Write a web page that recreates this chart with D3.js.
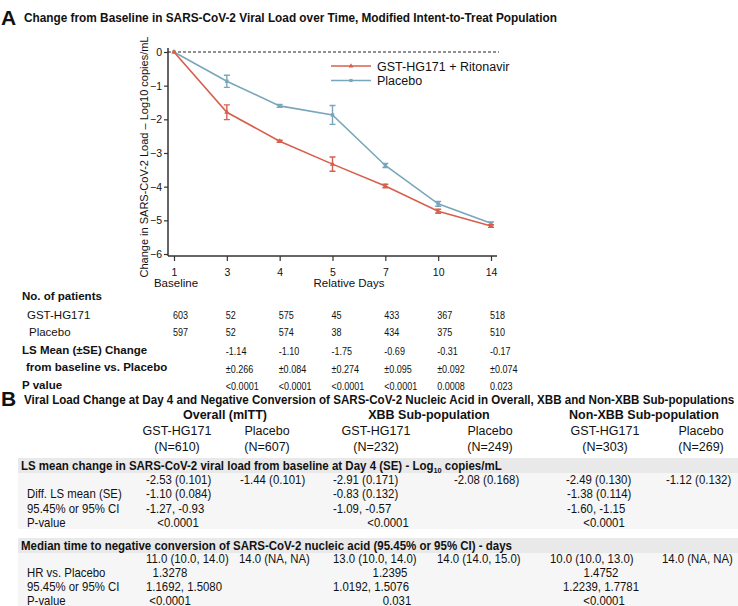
<!DOCTYPE html>
<html>
<head>
<meta charset="utf-8">
<script src="https://cdn.jsdelivr.net/npm/d3@7"></script>
<style>
  html, body { margin: 0; padding: 0; background: #fff; }
  svg { display: block; }
  text { font-family: Arial, 'Liberation Sans', sans-serif; fill: #111; }
</style>
</head>
<body>
<svg id="chart" width="738" height="606"></svg>
<script>
// ---------- Data ----------
const dayLabels = ["1", "3", "4", "5", "7", "10", "14"];
const gstMean = [0, -1.79, -2.65, -3.33, -3.98, -4.73, -5.17];
const gstSE   = [0, 0.22, 0.03, 0.21, 0.05, 0.06, 0.04];
const pboMean = [0, -0.87, -1.60, -1.87, -3.37, -4.51, -5.09];
const pboSE   = [0, 0.18, 0.04, 0.28, 0.06, 0.07, 0.04];
const yTicks = [0, -1, -2, -3, -4, -5, -6];
const seriesNames = ["GST-HG171 + Ritonavir", "Placebo"];
const seriesColors = ["#d6604d", "#7aa6bc"];

const nGst = ["603", "52", "575", "45", "433", "367", "518"];
const nPbo = ["597", "52", "574", "38", "434", "375", "510"];
const lsDiff = ["", "-1.14", "-1.10", "-1.75", "-0.69", "-0.31", "-0.17"];
const lsSE = ["", "±0.266", "±0.084", "±0.274", "±0.095", "±0.092", "±0.074"];
const pVals = ["", "<0.0001", "<0.0001", "<0.0001", "<0.0001", "0.0008", "0.023"];

// Part B
const groupNames = ["Overall (mITT)", "XBB Sub-population", "Non-XBB Sub-population"];
const armNames = ["GST-HG171", "Placebo", "GST-HG171", "Placebo", "GST-HG171", "Placebo"];
const armN = ["(N=610)", "(N=607)", "(N=232)", "(N=249)", "(N=303)", "(N=269)"];
const lsChange = ["-2.53 (0.101)", "-1.44 (0.101)", "-2.91 (0.171)", "-2.08 (0.168)", "-2.49 (0.130)", "-1.12 (0.132)"];
const diffLS = ["-1.10 (0.084)", "-0.83 (0.132)", "-1.38 (0.114)"];
const diffCI = ["-1.27, -0.93", "-1.09, -0.57", "-1.60, -1.15"];
const diffP = ["<0.0001", "<0.0001", "<0.0001"];
const medTime = ["11.0 (10.0, 14.0)", "14.0 (NA, NA)", "13.0 (10.0, 14.0)", "14.0 (14.0, 15.0)", "10.0 (10.0, 13.0)", "14.0 (NA, NA)"];
const hrVals = ["1.3278", "1.2395", "1.4752"];
const hrCI = ["1.1692, 1.5080", "1.0192, 1.5076", "1.2239, 1.7781"];
const hrP = ["<0.0001", "0.031", "<0.0001"];

const svg = d3.select("#chart");

// helper: text with horizontal condensing
function ctext(parent, str, xx, yy, opts = {}) {
  const s = opts.scale || 1;
  return parent.append("text")
    .attr("transform", `translate(${xx},${yy}) scale(${s},1)`)
    .attr("font-size", opts.size || 11.5)
    .attr("font-weight", opts.bold ? "bold" : "normal")
    .attr("text-anchor", opts.anchor || "start")
    .text(str);
}

// ---------- Part A titles ----------
ctext(svg, "A", 1, 25, { size: 21, bold: true });
ctext(svg, "Change from Baseline in SARS-CoV-2 Viral Load over Time, Modified Intent-to-Treat Population", 24, 22,
  { size: 13, bold: true, scale: 0.91 });

// ---------- Scales ----------
const x = d3.scalePoint().domain(dayLabels).range([174, 491]);
const y = d3.scaleLinear().domain([-6, 0]).range([254, 52]);
const axisColor = "#333";

// Y axis
const yAxis = svg.append("g").attr("transform", "translate(168,0)")
  .call(d3.axisLeft(y).tickValues(yTicks).tickFormat(d3.format("d")).tickSize(4).tickPadding(2));
yAxis.select(".domain").attr("d", "M0,48V256").attr("stroke", axisColor).attr("stroke-width", 1.5);
yAxis.selectAll(".tick line").attr("stroke", axisColor).attr("stroke-width", 1.2);
yAxis.selectAll(".tick text").attr("font-size", 10.5).attr("fill", "#111").attr("font-family", "Arial, 'Liberation Sans', sans-serif");

// X axis
const xAxis = svg.append("g").attr("transform", "translate(0,256)")
  .call(d3.axisBottom(x).tickSize(5).tickPadding(8));
xAxis.select(".domain").attr("d", "M168,0H497").attr("stroke", axisColor).attr("stroke-width", 1.5);
xAxis.selectAll(".tick line").attr("stroke", axisColor).attr("stroke-width", 1.2);
xAxis.selectAll(".tick text").attr("font-size", 10.5).attr("fill", "#111").attr("font-family", "Arial, 'Liberation Sans', sans-serif");

ctext(svg, "Baseline", x("1") + 2, 287, { size: 11.5, anchor: "middle" });
ctext(svg, "Relative Days", 349, 287, { size: 11.5, anchor: "middle" });

svg.append("text").attr("transform", "translate(148,157) rotate(-90)").attr("text-anchor", "middle")
  .attr("font-size", 11).text("Change in SARS-CoV-2 Load \u2013 Log10 copies/mL");

// Zero dashed line
svg.append("line").attr("x1", 168).attr("x2", 499).attr("y1", y(0)).attr("y2", y(0))
  .attr("stroke", "#222").attr("stroke-width", 1).attr("stroke-dasharray", "3,2");

// Series
const series = [
  { name: seriesNames[0], mean: gstMean, se: gstSE, color: seriesColors[0], marker: d3.symbolTriangle },
  { name: seriesNames[1], mean: pboMean, se: pboSE, color: seriesColors[1], marker: d3.symbolSquare }
];
const line = d3.line().x((d, i) => x(dayLabels[i])).y(d => y(d));

series.slice().reverse().forEach(s => {
  const g = svg.append("g");
  g.append("path").attr("d", line(s.mean)).attr("fill", "none").attr("stroke", s.color).attr("stroke-width", 1.6);
  s.mean.forEach((m, i) => {
    if (s.se[i] <= 0) return;
    const cx = x(dayLabels[i]);
    const y1 = y(m + s.se[i]), y2 = y(m - s.se[i]);
    g.append("path").attr("d", `M${cx},${y1}V${y2}M${cx - 3},${y1}H${cx + 3}M${cx - 3},${y2}H${cx + 3}`)
      .attr("stroke", s.color).attr("stroke-width", 1.4).attr("fill", "none");
  });
  g.selectAll(".mk").data(s.mean).enter().append("path")
    .attr("transform", (d, i) => `translate(${x(dayLabels[i])},${y(d)})`)
    .attr("d", d3.symbol().type(s.marker).size(12)).attr("fill", s.color);
});

// Legend
series.forEach((s, i) => {
  const ly = 66 + i * 14.5;
  svg.append("line").attr("x1", 331).attr("x2", 371).attr("y1", ly).attr("y2", ly).attr("stroke", s.color).attr("stroke-width", 1.6);
  svg.append("path").attr("transform", `translate(351,${ly})`).attr("d", d3.symbol().type(s.marker).size(10)).attr("fill", s.color);
  svg.append("text").attr("x", 377).attr("y", ly + 4.5).attr("font-size", 12.5).text(s.name);
});

// ---------- Part A table ----------
const tA = svg.append("g");
function rowLabel(txt, xx, yy, bold) { ctext(tA, txt, xx, yy, { size: 11.5, bold: bold }); }
function rowVals(arr, yy) {
  arr.forEach((v, i) => { if (v) ctext(tA, v, x(dayLabels[i]) - 1, yy, { size: 10.5, scale: 0.86 }); });
}
rowLabel("No. of patients", 22, 300, true);
rowLabel("GST-HG171", 27, 318.5, false); rowVals(nGst, 318.5);
rowLabel("Placebo", 29, 336, false); rowVals(nPbo, 336);
rowLabel("LS Mean (\u00b1SE) Change", 22, 353.5, true); rowVals(lsDiff, 354.5);
rowLabel("from baseline vs. Placebo", 26, 370.5, true); rowVals(lsSE, 373);
rowLabel("P value", 22, 388.5, true); rowVals(pVals, 389.5);

// ---------- Part B ----------
ctext(svg, "B", 1, 406, { size: 21, bold: true });
ctext(svg, "Viral Load Change at Day 4 and Negative Conversion of SARS-CoV-2 Nucleic Acid in Overall, XBB and Non-XBB Sub-populations", 24, 404,
  { size: 13, bold: true, scale: 0.893 });

const groupCenter = [225, 429, 644];
const armCenter = [177, 267, 376, 490, 605, 701];
const lsStart = [146, 240, 333, 454, 566, 666];
const diffStart = [146, 333, 567];
const diffPCenter = [178, 388, 604];
const medStart = [146, 239, 333, 437, 550, 662];
const hrCenter = [170, 390, 601];
const hrCIStart = [146, 333, 563];
const hrPCenter = [170, 397, 604];

const tB = svg.append("g");
groupNames.forEach((g, i) => ctext(tB, g, groupCenter[i], 419, { size: 12.5, bold: true, anchor: "middle" }));
armNames.forEach((a, i) => ctext(tB, a, armCenter[i], 435, { size: 12.5, anchor: "middle" }));
armN.forEach((a, i) => ctext(tB, a, armCenter[i], 451, { size: 12.5, anchor: "middle" }));

// Section backgrounds
function section(y0, title, sub) {
  tB.append("rect").attr("x", 18).attr("y", y0).attr("width", 720).attr("height", 71).attr("fill", "#f6f6f6");
  tB.append("rect").attr("x", 18).attr("y", y0).attr("width", 720).attr("height", 15).attr("fill", "#e9e9e9");
  const t = ctext(tB, title, 21, y0 + 11.5, { size: 12.5, bold: true, scale: 0.92 });
  if (sub) {
    t.append("tspan").attr("font-size", 8).attr("dy", 3).text("10");
    t.append("tspan").attr("dy", -3).text(" copies/mL");
  }
}
section(458, "LS mean change in SARS-CoV-2 viral load from baseline at Day 4 (SE) - Log", true);
section(538, "Median time to negative conversion of SARS-CoV-2 nucleic acid (95.45% or 95% CI) - days", false);

const bOpt = { size: 12, scale: 0.95 };
function bLabel(txt, yy) { ctext(tB, txt, 27, yy, bOpt); }
function bStart(arr, xs, yy) { arr.forEach((v, i) => ctext(tB, v, xs[i], yy, bOpt)); }
function bCenter(arr, xs, yy) { arr.forEach((v, i) => ctext(tB, v, xs[i], yy, Object.assign({ anchor: "middle" }, bOpt))); }

bStart(lsChange, lsStart, 484);
bLabel("Diff. LS mean (SE)", 498); bStart(diffLS, diffStart, 498);
bLabel("95.45% or 95% CI", 512.5); bStart(diffCI, diffStart, 512.5);
bLabel("P-value", 527); bCenter(diffP, diffPCenter, 527);

bStart(medTime, medStart, 563);
bLabel("HR vs. Placebo", 577); bCenter(hrVals, hrCenter, 577);
bLabel("95.45% or 95% CI", 591); bStart(hrCI, hrCIStart, 591);
bLabel("P-value", 605); bCenter(hrP, hrPCenter, 605);
</script>
</body>
</html>
